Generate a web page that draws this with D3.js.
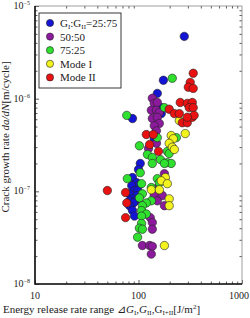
<!DOCTYPE html>
<html>
<head>
<meta charset="utf-8">
<style>
  body { margin: 0; background: #fff; }
  svg { font-family: "Liberation Serif", "DejaVu Serif", serif; }
</style>
</head>
<body>
<div id="chart"></div>
<script src="https://d3js.org/d3.v7.min.js"></script>
<script>
// values: [energy release rate range J/m2, da/dN m/cycle]
var mix2575 = [
  [277, 4.7e-6], [174, 1.58e-6], [152, 1.14e-6], [166, 8.0e-7], [166, 6.9e-7],
  [87.5, 6.1e-7], [142, 3.7e-7], [104, 2.0e-7], [100, 1.72e-7], [87.5, 1.41e-7],
  [96, 1.24e-7], [102, 1.18e-7], [86, 1.15e-7], [91.5, 1.02e-7], [98, 1.02e-7],
  [82, 9.4e-8], [96, 9.0e-8], [87.5, 8.3e-8], [82, 7.9e-8], [93.6, 7.9e-8],
  [89.5, 7.5e-8], [82, 7.0e-8], [87.5, 6.2e-8], [91.5, 5.4e-8]
];
var mix5050 = [
  [136, 1.01e-6], [142, 8.9e-7], [152, 9.1e-7], [133, 7.5e-7], [149, 7.5e-7],
  [159, 7.1e-7], [136, 6.1e-7], [152, 6.3e-7], [159, 5.4e-7], [142, 5.1e-7],
  [149, 4.5e-7], [149, 3.3e-7], [125, 2.9e-7], [178, 1.55e-7], [149, 1.07e-7],
  [142, 9.0e-8], [170, 9.0e-8], [152, 7.9e-8], [178, 7.0e-8], [130, 5.2e-8],
  [136, 4.6e-8], [136, 3.9e-8], [109, 2.6e-8], [128, 2.6e-8], [136, 2.55e-8],
  [133, 2.1e-8]
];
var mix7525 = [
  [212, 1.66e-6], [178, 8.0e-7], [77, 6.6e-7], [152, 3.8e-7], [232, 3.8e-7],
  [102, 3.1e-7], [190, 2.7e-7], [198, 2.56e-7], [122, 2.5e-7], [136, 2.32e-7],
  [163, 2.2e-7], [190, 2.04e-7], [207, 2.0e-7], [136, 2.0e-7], [178, 2.0e-7],
  [104, 1.59e-7], [78, 1.37e-7], [107, 1.21e-7], [152, 1.37e-7], [159, 1.24e-7],
  [133, 1.1e-7], [109, 9.4e-8], [102, 8.5e-8], [133, 7.9e-8], [119, 7.5e-8],
  [109, 7.0e-8], [107, 6.2e-8], [119, 5.7e-8], [107, 5.4e-8], [107, 4.5e-8],
  [102, 4.0e-8], [109, 3.9e-8], [98, 3.2e-8]
];
var modeI = [
  [248, 5.8e-7], [283, 4.2e-7], [207, 4.0e-7], [217, 3.7e-7], [198, 3.3e-7],
  [212, 3.0e-7], [222, 2.83e-7], [182, 1.41e-7], [166, 1.3e-7], [190, 1.21e-7],
  [133, 1.04e-7], [159, 1.04e-7], [198, 8.3e-8], [198, 7.0e-8], [178, 2.6e-8]
];
var modeII = [
  [338, 1.88e-6], [316, 1.5e-6], [303, 1.33e-6], [338, 1.29e-6], [253, 9.1e-7],
  [296, 8.9e-7], [331, 9.1e-7], [309, 8.0e-7], [338, 8.0e-7], [198, 7.7e-7],
  [222, 6.9e-7], [248, 6.9e-7], [265, 5.5e-7], [296, 5.5e-7], [331, 6.3e-7],
  [345, 6.6e-7], [296, 6.3e-7], [119, 4.1e-7], [139, 4.1e-7], [128, 3.2e-7],
  [156, 2.7e-7], [50, 1.02e-7], [75, 9.7e-8], [77, 7.5e-8], [75, 5.2e-8]
];

var seriesNames = ["25:75", "50:50", "75:25", "Mode I", "Mode II"];
var seriesColors = ["#1414d4", "#8c1a9c", "#2fe02f", "#f2f21e", "#e81212"];
var seriesData = [mix2575, mix5050, mix7525, modeI, modeII];

var xTicks = [10, 100, 1000];
var yExps = [-5, -6, -7, -8];

var W = 250, H = 318;
var margin = {top: 6, right: 8, bottom: 34, left: 35};
var width = W - margin.left - margin.right;
var height = H - margin.top - margin.bottom;

var svg = d3.select("#chart").append("svg")
    .attr("width", W)
    .attr("height", H);
var g = svg.append("g").attr("transform", "translate(" + margin.left + "," + margin.top + ")");

var x = d3.scaleLog().domain([10, 1000]).range([0, width]);
var y = d3.scaleLog().domain([1e-8, 1e-5]).range([height, 0]);

// minor ticks on every side, pointing inward
var xMinor = [], yMinor = [];
[10, 100].forEach(function(b) { for (var k = 2; k <= 9; k++) xMinor.push(b * k); });
[1e-8, 1e-7, 1e-6].forEach(function(b) { for (var k = 2; k <= 9; k++) yMinor.push(b * k); });

g.append("g")
    .attr("transform", "translate(0," + height + ")")
    .call(d3.axisBottom(x).tickValues(xMinor).tickSize(-2.5).tickFormat(""))
    .call(function(a) { a.select(".domain").remove(); });
g.append("g")
    .call(d3.axisTop(x).tickValues(xMinor).tickSize(-2.5).tickFormat(""))
    .call(function(a) { a.select(".domain").remove(); });
g.append("g")
    .call(d3.axisLeft(y).tickValues(yMinor).tickSize(-2.5).tickFormat(""))
    .call(function(a) { a.select(".domain").remove(); });
g.append("g")
    .attr("transform", "translate(" + width + ",0)")
    .call(d3.axisRight(y).tickValues(yMinor).tickSize(-2.5).tickFormat(""))
    .call(function(a) { a.select(".domain").remove(); });
g.append("g")
    .attr("transform", "translate(0," + height + ")")
    .call(d3.axisBottom(x).tickValues(xTicks).tickSize(-4).tickFormat(""))
    .call(function(a) { a.select(".domain").remove(); });
g.append("g")
    .call(d3.axisLeft(y).tickValues(yExps.map(function(e) { return Math.pow(10, e); })).tickSize(-4).tickFormat(""))
    .call(function(a) { a.select(".domain").remove(); });
g.selectAll(".tick line").attr("stroke", "#333").attr("stroke-width", 0.8);

// frame
g.append("rect")
    .attr("width", width).attr("height", height)
    .attr("fill", "none").attr("stroke", "#888").attr("stroke-width", 0.8);
g.append("path")
    .attr("d", "M0,0V" + height + "H" + width)
    .attr("fill", "none").attr("stroke", "#111").attr("stroke-width", 1.6);

// tick labels (last one kept inside the window)
g.selectAll(".xlab").data(xTicks).enter().append("text")
    .attr("x", function(d, i) { return i === xTicks.length - 1 ? W - margin.left - 1 : x(d); })
    .attr("y", height + 15)
    .attr("text-anchor", function(d, i) { return i === xTicks.length - 1 ? "end" : "middle"; })
    .style("font-size", "10px")
    .attr("fill", "#222")
    .text(function(d) { return d; });

var yl = g.selectAll(".ylab").data(yExps).enter().append("text")
    .attr("x", -5)
    .attr("y", function(d) { return y(Math.pow(10, d)) + 3; })
    .attr("text-anchor", "end")
    .style("font-size", "10px")
    .attr("fill", "#222");
yl.append("tspan").text("10");
yl.append("tspan").attr("dy", -4).style("font-size", "6px").text(function(d) { return "\u2212" + (-d); });

// points
seriesData.forEach(function(data, i) {
  g.append("g").selectAll("circle").data(data).enter().append("circle")
      .attr("cx", function(d) { return x(d[0]); })
      .attr("cy", function(d) { return y(d[1]); })
      .attr("r", 4.2)
      .attr("fill", seriesColors[i])
      .attr("stroke", "#222")
      .attr("stroke-width", 0.6);
});

// legend
var lg = svg.append("g").attr("transform", "translate(39,13)");
lg.append("rect")
    .attr("width", 82).attr("height", 75)
    .attr("fill", "#fff").attr("stroke", "#222").attr("stroke-width", 0.9);
var items = lg.selectAll(".item").data(seriesNames).enter().append("g")
    .attr("transform", function(d, i) { return "translate(0," + (10 + i * 13.6) + ")"; });
items.append("circle")
    .attr("cx", 11).attr("cy", 0).attr("r", 3.6)
    .attr("fill", function(d, i) { return seriesColors[i]; })
    .attr("stroke", "#222").attr("stroke-width", 0.6);
var it = items.append("text")
    .attr("x", 21).attr("y", 4)
    .style("font-size", "11px")
    .attr("fill", "#222");
it.each(function(d, i) {
  var t = d3.select(this);
  if (i === 0) {
    t.append("tspan").text("G");
    t.append("tspan").attr("dy", 2).style("font-size", "7px").text("I");
    t.append("tspan").attr("dy", -2).text(":G");
    t.append("tspan").attr("dy", 2).style("font-size", "7px").text("II");
    t.append("tspan").attr("dy", -2).text("=" + d);
  } else {
    t.text(d);
  }
});

// axis titles
var yt = svg.append("text")
    .attr("transform", "translate(9," + (margin.top + height / 2 - 8) + ") rotate(-90)")
    .attr("text-anchor", "middle")
    .style("font-size", "11px")
    .attr("fill", "#222");
yt.append("tspan").text("Crack growth rate ");
yt.append("tspan").style("font-style", "italic").text("da/dN");
yt.append("tspan").text("[m/cycle]");

var xt = svg.append("text")
    .attr("x", 3)
    .attr("y", 313)
    .style("font-size", "11px")
    .attr("fill", "#222");
xt.append("tspan").text("Energy release rate range \u22BF");
xt.append("tspan").style("font-style", "italic").text("G");
xt.append("tspan").attr("dy", 2).style("font-size", "7px").text("I");
xt.append("tspan").attr("dy", -2).text(",");
xt.append("tspan").style("font-style", "italic").text("G");
xt.append("tspan").attr("dy", 2).style("font-size", "7px").text("II");
xt.append("tspan").attr("dy", -2).text(",G");
xt.append("tspan").attr("dy", 2).style("font-size", "7px").text("I+II");
xt.append("tspan").attr("dy", -2).text("[J/m");
xt.append("tspan").attr("dy", -4).style("font-size", "7px").text("2");
xt.append("tspan").attr("dy", 4).text("]");
</script>
</body>
</html>
